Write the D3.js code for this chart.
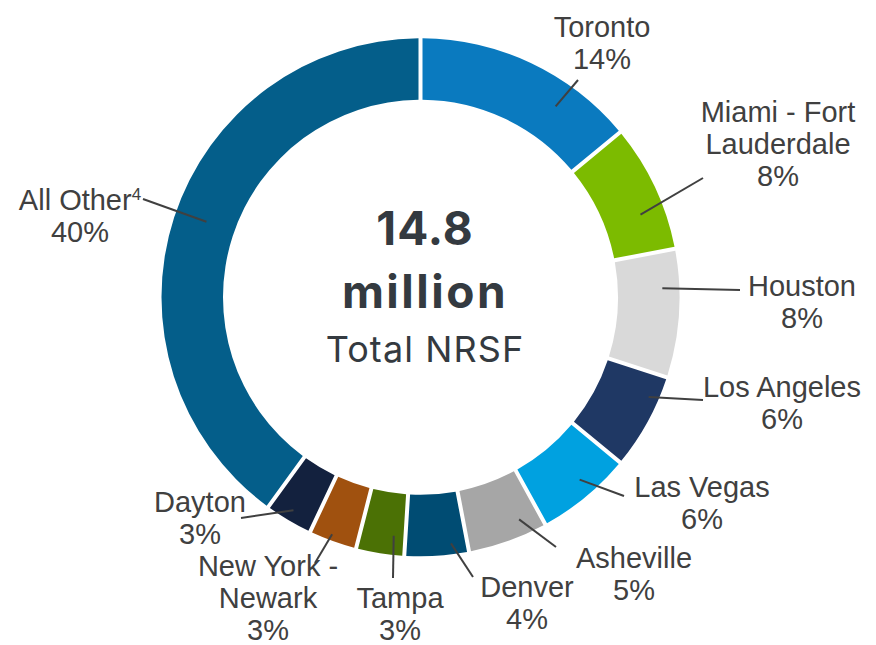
<!DOCTYPE html>
<html>
<head>
<meta charset="utf-8">
<script src="https://cdn.jsdelivr.net/npm/d3@7"></script>
<style>
  html, body { margin: 0; padding: 0; background: #fff; }
  svg { display: block; }
</style>
</head>
<body>
<svg id="chart" width="876" height="645"></svg>
<script>
// ---- data ----
const categories = ["Toronto", "Miami - Fort Lauderdale", "Houston", "Los Angeles", "Las Vegas",
  "Asheville", "Denver", "Tampa", "New York - Newark", "Dayton", "All Other"];
const values = [14, 8, 8, 6, 6, 5, 4, 3, 3, 3, 40];
const labelLines = [["Toronto"], ["Miami - Fort", "Lauderdale"], ["Houston"], ["Los Angeles"],
  ["Las Vegas"], ["Asheville"], ["Denver"], ["Tampa"], ["New York -", "Newark"], ["Dayton"], ["All Other"]];
const superscripts = ["", "", "", "", "", "", "", "", "", "", "4"];
const centerTitle = ["14.8", "million"];
const centerSub = "Total NRSF";

// ---- style / layout ----
const colors = ["#0a7abf", "#7cbb00", "#d9d9d9", "#1f3864", "#00a1e0", "#a6a6a6",
  "#004c73", "#4b7105", "#a0510f", "#13213e", "#045e8a"];
// t: position inside slice (0..1), r: radius of leader start, ex/ey: leader end, cx: text centre, by: first baseline
const labelLayout = [
  {t: 0.70, r: 234, ex: 578, ey: 80,  cx: 602, by: 37},
  {t: 0.66, r: 235, ex: 703, ey: 178, cx: 778, by: 122},
  {t: 0.30, r: 242, ex: 740, ey: 290, cx: 802, by: 296},
  {t: 0.26, r: 249, ex: 703, ey: 400, cx: 782, by: 397},
  {t: 0.43, r: 242, ex: 624, ey: 496, cx: 702, by: 497},
  {t: 0.27, r: 243, ex: 556, ey: 547, cx: 634, by: 568},
  {t: 0.26, r: 248, ex: 473, ey: 577, cx: 527, by: 597},
  {t: 0.26, r: 240, ex: 393, ey: 578, cx: 400, by: 608},
  {t: 0.56, r: 253, ex: 315, ey: 563, cx: 268, by: 576},
  {t: 0.52, r: 248, ex: 241, ey: 518, cx: 200, by: 512},
  {t: 0.51, r: 227, ex: 143, ey: 199, cx: 80,  by: 210}
];
const cx = 420.5, cy = 297.3, outerR = 259, innerR = 197.5;
const labelFont = "'Liberation Sans', Arial, sans-serif";
const labelSize = 29, lineH = 32;
const textColor = "#404040";

const svg = d3.select("#chart");
const g = svg.append("g").attr("transform", `translate(${cx},${cy})`);

const data = categories.map((c, i) => ({name: c, value: values[i], idx: i}));
const pie = d3.pie().value(d => d.value).sort(null);
const arcs = pie(data);
const arc = d3.arc().innerRadius(innerR).outerRadius(outerR).padAngle(0.02).padRadius(200);

g.selectAll("path.slice").data(arcs).enter().append("path")
  .attr("class", "slice")
  .attr("d", arc)
  .attr("fill", d => colors[d.data.idx]);

// leader lines
arcs.forEach(a => {
  const L = labelLayout[a.data.idx];
  const ang = a.startAngle + (a.endAngle - a.startAngle) * L.t;
  const x1 = Math.sin(ang) * L.r, y1 = -Math.cos(ang) * L.r;
  g.append("line")
    .attr("x1", x1).attr("y1", y1)
    .attr("x2", L.ex - cx).attr("y2", L.ey - cy)
    .attr("stroke", textColor).attr("stroke-width", 2);
});

// labels
arcs.forEach(a => {
  const i = a.data.idx;
  const L = labelLayout[i];
  const lines = labelLines[i].concat([a.data.value + "%"]);
  lines.forEach((ln, k) => {
    const t = svg.append("text")
      .attr("x", L.cx).attr("y", L.by + k * lineH)
      .attr("text-anchor", "middle")
      .attr("font-family", labelFont)
      .attr("font-size", labelSize)
      .attr("fill", textColor);
    t.append("tspan").text(ln);
    if (k === 0 && superscripts[i]) {
      t.append("tspan").attr("dy", -10).attr("font-size", 17).text(superscripts[i]);
    }
  });
});

// centre text
const ctx = 425;
svg.append("text").attr("x", ctx).attr("y", 245).attr("text-anchor", "middle")
  .attr("font-family", "Inter, 'Open Sans', sans-serif").attr("font-weight", 700)
  .attr("font-size", 46).attr("letter-spacing", 1).attr("fill", "#343a40").text(centerTitle[0]);
svg.append("text").attr("x", ctx).attr("y", 308).attr("text-anchor", "middle")
  .attr("font-family", "Inter, 'Open Sans', sans-serif").attr("font-weight", 700)
  .attr("font-size", 46).attr("letter-spacing", 2.5).attr("fill", "#343a40").text(centerTitle[1]);
svg.append("text").attr("x", ctx).attr("y", 362).attr("text-anchor", "middle")
  .attr("font-family", "Inter, 'Open Sans', sans-serif").attr("font-weight", 400)
  .attr("font-size", 36).attr("letter-spacing", 1.1).attr("fill", "#343a40").text(centerSub);
</script>
</body>
</html>
